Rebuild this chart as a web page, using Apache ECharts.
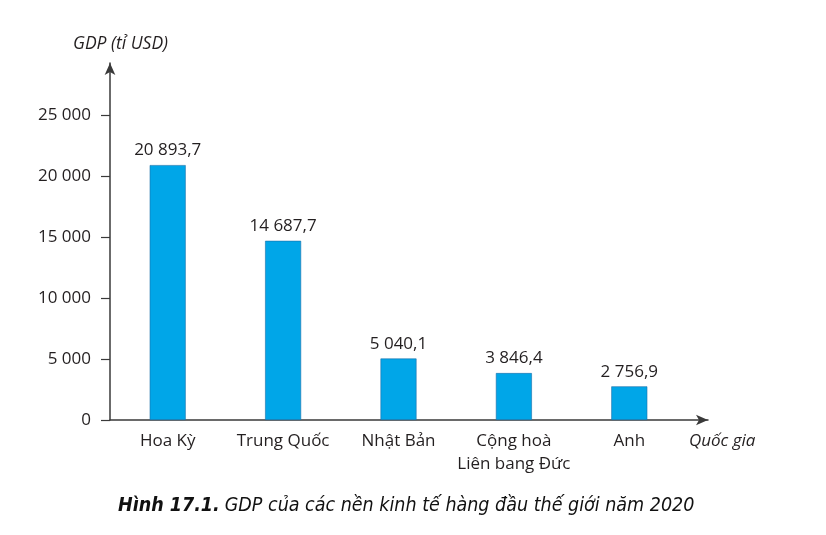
<!DOCTYPE html>
<html>
<head>
<meta charset="utf-8">
<style>
  html, body { margin: 0; padding: 0; background: #fff; }
  #chart { width: 826px; height: 535px; }
</style>
<script src="https://cdn.jsdelivr.net/npm/echarts@6/dist/echarts.min.js"></script>
</head>
<body>
<div id="chart"></div>
<script>
const countries = ["Hoa Kỳ", "Trung Quốc", "Nhật Bản", "Cộng hoà\nLiên bang Đức", "Anh"];
const gdp = [20893.7, 14687.7, 5040.1, 3846.4, 2756.9];
const yTicks = [0, 5000, 10000, 15000, 20000, 25000];

const textColor = "#231f20";
const axisColor = "#3a3a3a";
const font = "'Open Sans', 'Noto Sans', sans-serif";
const captionFont = "'DejaVu Sans Condensed', 'Liberation Sans Narrow', 'Open Sans', sans-serif";

// 20893.7 -> "20 893,7"
function fmt(v) {
  const parts = String(v).split(".");
  const intPart = parts[0].replace(/\B(?=(\d{3})+(?!\d))/g, " ");
  return parts[1] ? intPart + "," + parts[1] : intPart;
}

const chart = echarts.init(document.getElementById("chart"));

chart.setOption({
  backgroundColor: "#fff",
  animation: false,
  title: [
    {
      text: "GDP (tỉ USD)",
      left: 68,
      top: 30,
      textStyle: { fontFamily: font, fontSize: 17.5, fontStyle: "italic", fontWeight: "normal", color: textColor },
    },
    {
      text: "Quốc gia",
      left: 684,
      top: 428,
      textStyle: { fontFamily: font, fontSize: 17, fontStyle: "italic", fontWeight: "normal", color: textColor },
    },
    {
      text: "{b|Hình 17.1.} {n|GDP của các nền kinh tế hàng đầu thế giới năm 2020}",
      left: 113,
      top: 491,
      textStyle: {
        rich: {
          b: { fontFamily: captionFont, fontSize: 19.5, fontStyle: "italic", fontWeight: "bold", color: "#111" },
          n: { fontFamily: captionFont, fontSize: 19.5, fontStyle: "italic", fontWeight: "normal", color: "#111" },
        },
      },
    },
  ],
  grid: [
    // plotting area for the bars
    { left: 110, right: 139, top: 115, bottom: 115 },
    // only used to draw the long arrow axes
    { left: 110, right: 118, top: 63, bottom: 115 },
  ],
  xAxis: [
    {
      type: "category",
      gridIndex: 0,
      data: countries,
      axisLine: { show: false },
      axisTick: { show: false },
      axisLabel: {
        interval: 0,
        margin: 10,
        fontFamily: font,
        fontSize: 17,
        lineHeight: 23,
        color: textColor,
      },
    },
    {
      type: "value",
      gridIndex: 1,
      min: 0,
      max: 1,
      axisLine: {
        show: true,
        symbol: ["none", "arrow"],
        symbolSize: [8, 12],
        lineStyle: { color: axisColor, width: 1.5 },
      },
      axisTick: { show: false },
      axisLabel: { show: false },
      splitLine: { show: false },
    },
  ],
  yAxis: [
    {
      type: "value",
      gridIndex: 0,
      min: 0,
      max: 25000,
      interval: 5000,
      axisLine: { show: false },
      axisTick: { show: true, length: 9, lineStyle: { color: axisColor, width: 1.2 } },
      splitLine: { show: false },
      axisLabel: {
        margin: 19,
        fontFamily: font,
        fontSize: 17,
        color: textColor,
        customValues: yTicks,
        formatter: (v) => fmt(v),
      },
    },
    {
      type: "value",
      gridIndex: 1,
      min: 0,
      max: 1,
      axisLine: {
        show: true,
        symbol: ["none", "arrow"],
        symbolSize: [8, 12],
        lineStyle: { color: axisColor, width: 1.5 },
      },
      axisTick: { show: false },
      axisLabel: { show: false },
      splitLine: { show: false },
    },
  ],
  series: [
    {
      name: "GDP",
      type: "bar",
      xAxisIndex: 0,
      yAxisIndex: 0,
      barWidth: 36,
      data: gdp,
      itemStyle: { color: "#00a6e8", borderColor: "#1b6fa8", borderWidth: 0.6 },
      label: {
        show: true,
        position: "top",
        distance: 6,
        fontFamily: font,
        fontSize: 17,
        color: textColor,
        formatter: (p) => fmt(p.value),
      },
    },
  ],
});
</script>
</body>
</html>
